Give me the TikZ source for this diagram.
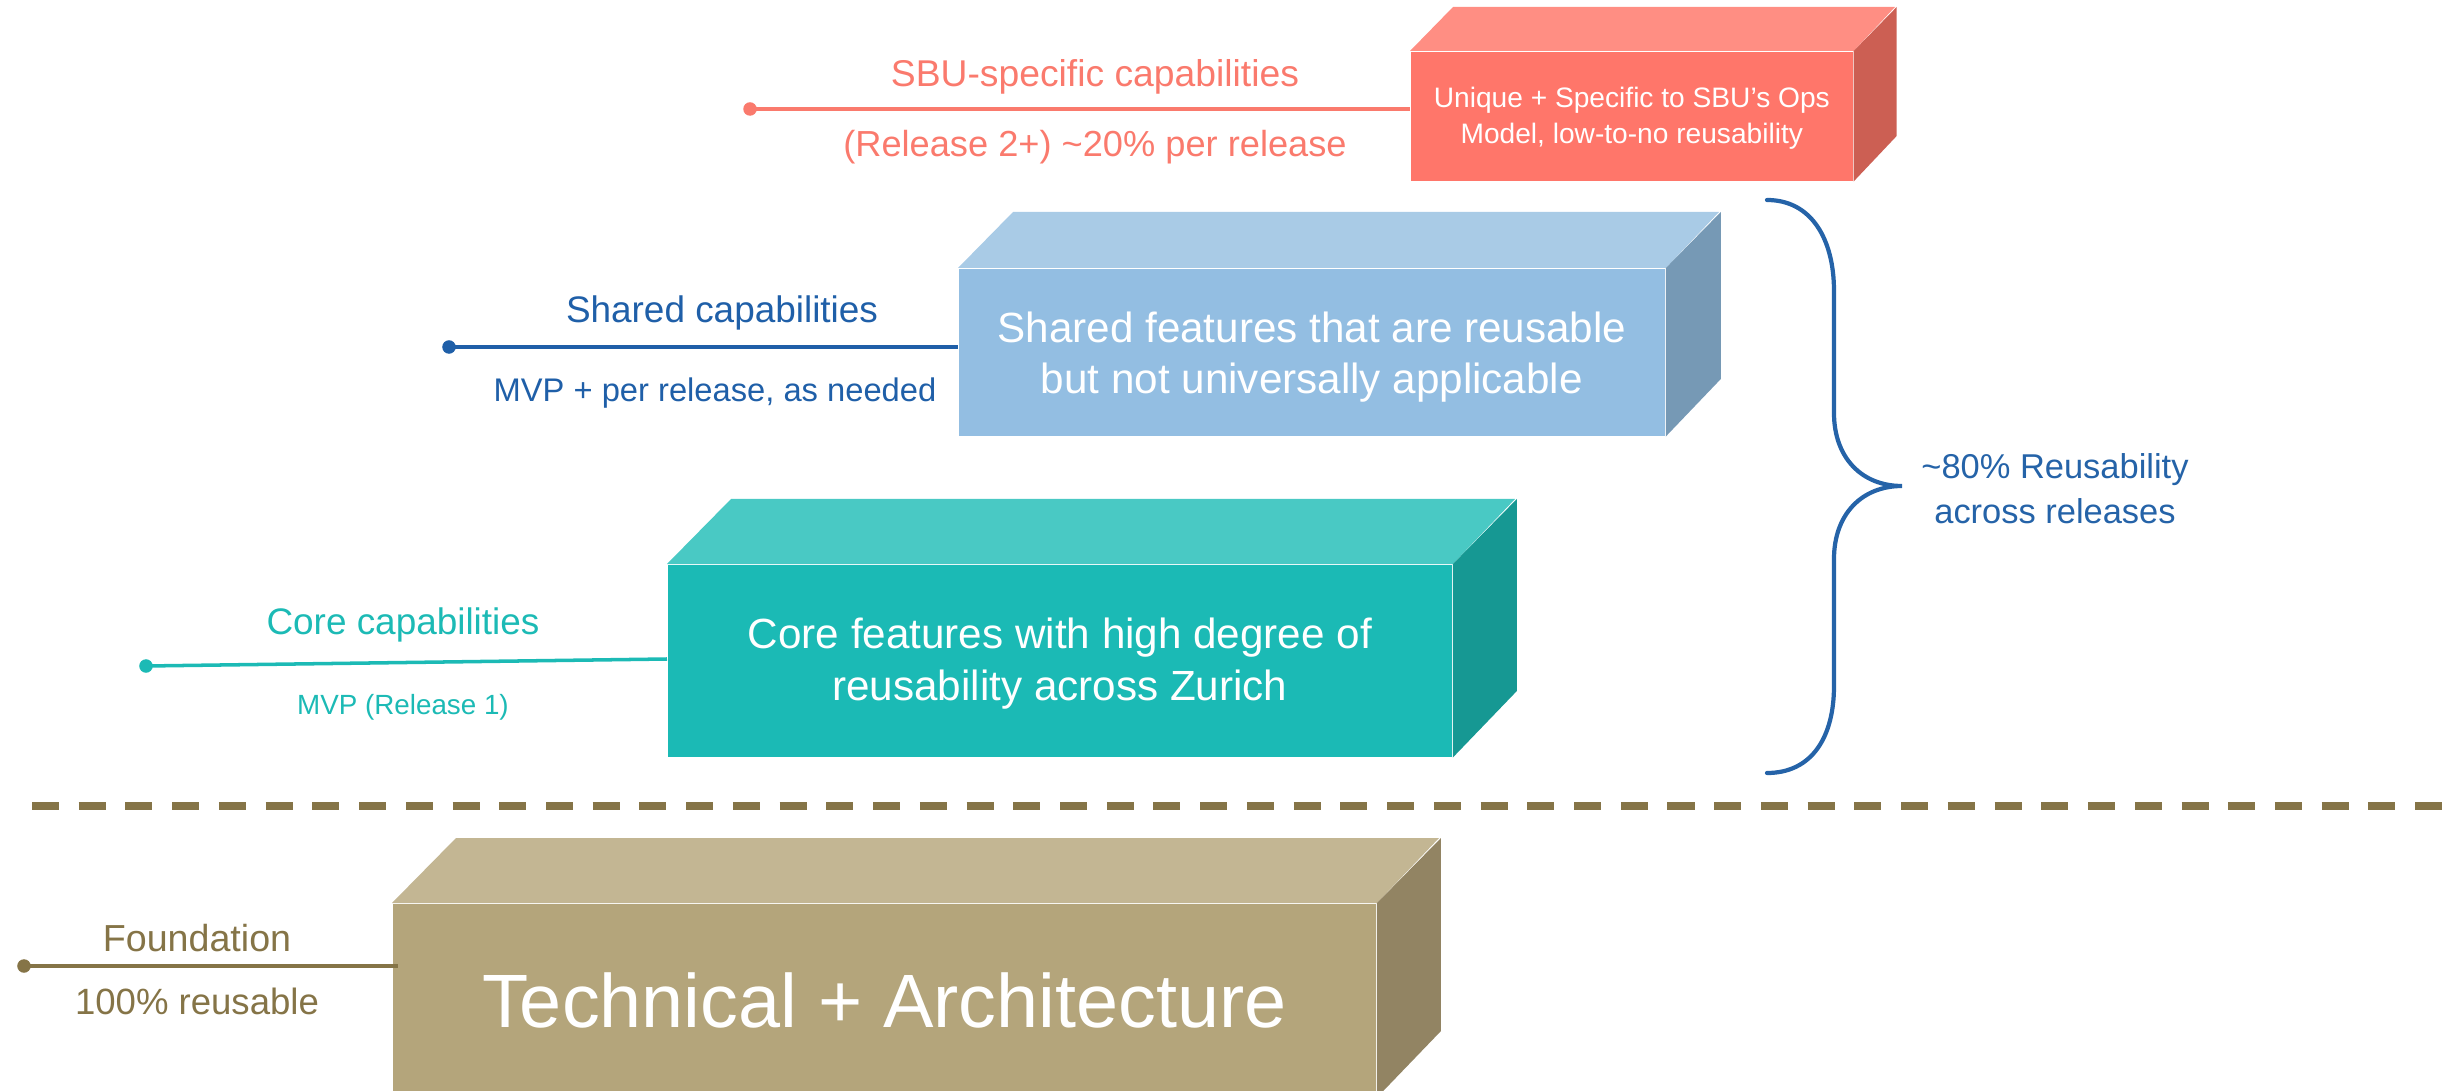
\documentclass[tikz,border=0pt]{standalone}
\usepackage{fontspec}
\setmainfont{Liberation Sans}
\definecolor{sbufront}{HTML}{FF766A}
\definecolor{sbutop}{HTML}{FF8E83}
\definecolor{sbuside}{HTML}{CC5F53}
\definecolor{sbulbl}{HTML}{FA7A6D}
\definecolor{shfront}{HTML}{93BEE2}
\definecolor{shtop}{HTML}{A9CBE6}
\definecolor{shside}{HTML}{7699B5}
\definecolor{shlbl}{HTML}{1F5FA8}
\definecolor{cofront}{HTML}{1BBAB5}
\definecolor{cotop}{HTML}{49C9C4}
\definecolor{coside}{HTML}{169893}
\definecolor{colbl}{HTML}{1CBAB5}
\definecolor{tefront}{HTML}{B4A57B}
\definecolor{tetop}{HTML}{C3B693}
\definecolor{teside}{HTML}{928463}
\definecolor{telbl}{HTML}{857447}
\definecolor{bracecol}{HTML}{2563A8}
\begin{document}
\begin{tikzpicture}[x=0.01cm,y=-0.01cm,
  facebox/.style={inner sep=0pt, anchor=north west},
  facetext/.style={inner sep=0pt, text=white, align=center},
  dotnode/.style={circle, inner sep=0pt, minimum size=0.135cm},
  lbl/.style={inner sep=0pt, anchor=base},
  conn/.style={line width=1pt}]
\useasboundingbox (0,0) rectangle (2453,1091);

% ---------- SBU box ----------
\node[facebox, fill=sbufront, minimum width=4.42cm, minimum height=1.29cm] (sbu) at (1410,51) {};
\fill[sbutop] (sbu.north west) -- ++(43,-44) -- ++(442,0) -- (sbu.north east) -- cycle;
\fill[sbuside] (sbu.north east) -- ++(43,-44) -- ++(0,129) -- (sbu.south east) -- cycle;
\node[facetext, font=\fontsize{8}{10}\selectfont] (sbutxt) at ([yshift=-0.02cm]sbu.center)
      {Unique + Specific to SBU’s Ops\\Model, low-to-no reusability};

% ---------- Shared box ----------
\node[facebox, fill=shfront, minimum width=7.06cm, minimum height=1.67cm] (sh) at (958,268) {};
\fill[shtop] (sh.north west) -- ++(55,-56) -- ++(706,0) -- (sh.north east) -- cycle;
\fill[shside] (sh.north east) -- ++(55,-56) -- ++(0,167) -- (sh.south east) -- cycle;
\node[facetext, font=\fontsize{12}{14.6}\selectfont] (shtxt) at ([yshift=-0.05cm]sh.center)
      {Shared features that are reusable\\but not universally applicable};

% ---------- Core box ----------
\node[facebox, fill=cofront, minimum width=7.84cm, minimum height=1.92cm] (co) at (667,564) {};
\fill[cotop] (co.north west) -- ++(64,-65) -- ++(784,0) -- (co.north east) -- cycle;
\fill[coside] (co.north east) -- ++(64,-65) -- ++(0,192) -- (co.south east) -- cycle;
\node[facetext, font=\fontsize{12}{14.8}\selectfont] (cotxt) at ([yshift=-0.03cm]co.center)
      {Core features with high degree of\\reusability across Zurich};

% ---------- Technical box ----------
\node[facebox, fill=tefront, minimum width=9.83cm, minimum height=1.93cm] (te) at (392,903) {};
\fill[tetop] (te.north west) -- ++(64,-65) -- ++(983,0) -- (te.north east) -- cycle;
\fill[teside] (te.north east) -- ++(64,-65) -- ++(0,193) -- (te.south east) -- cycle;
\node[facetext, font=\fontsize{21.5}{25}\selectfont] (tetxt) at (te.center) {Technical + Architecture};

% ---------- dashed separator ----------
\coordinate (dashL) at (32,806);
\coordinate (dashR) at (2453,806);
\draw[telbl, line width=2.3pt, dash pattern=on 0.27cm off 0.197cm] (dashL) -- (dashR);

% ---------- SBU connector ----------
\node[dotnode, fill=sbulbl] (dsbu) at (750,109) {};
\draw[conn, sbulbl] (dsbu.center) -- (dsbu.center -| sbu.west);
\node[lbl, text=sbulbl, font=\fontsize{10.6}{12}\selectfont] (sbuA) at (1095,87) {SBU-specific capabilities};
\node[lbl, text=sbulbl, font=\fontsize{10.3}{12}\selectfont] (sbuB) at (1095,157) {(Release 2+) \textasciitilde 20\% per release};

% ---------- Shared connector ----------
\node[dotnode, fill=shlbl] (dsh) at (449,347) {};
\draw[conn, shlbl] (dsh.center) -- (dsh.center -| sh.west);
\node[lbl, text=shlbl, font=\fontsize{10.5}{12}\selectfont] (shA) at (722,323) {Shared capabilities};
\node[lbl, text=shlbl, font=\fontsize{9.3}{11}\selectfont] (shB) at (715,402) {MVP + per release, as needed};

% ---------- Core connector ----------
\node[dotnode, fill=colbl] (dco) at (146,666) {};
\coordinate (coend) at (667,659);
\draw[conn, colbl] (dco.center) -- (coend);
\node[lbl, text=colbl, font=\fontsize{10.5}{12}\selectfont] (coA) at (403,634) {Core capabilities};
\node[lbl, text=colbl, font=\fontsize{7.9}{9}\selectfont] (coB) at (403,714) {MVP (Release 1)};

% ---------- Foundation connector ----------
\node[dotnode, fill=telbl] (dte) at (24,966) {};
\coordinate (teend) at (398,966);
\draw[conn, telbl] (dte.center) -- (teend);
\node[lbl, text=telbl, font=\fontsize{10.7}{12}\selectfont] (teA) at (197,951) {Foundation};
\node[lbl, text=telbl, font=\fontsize{10.4}{12}\selectfont] (teB) at (197,1014) {100\% reusable};

% ---------- Brace ----------
\draw[bracecol, line width=1.2pt, line cap=round]
  (1767,200) .. controls (1812,200) and (1834,240) .. (1834,291)
  -- (1834,413)
  .. controls (1834,458) and (1862,486) .. (1902,486)
  .. controls (1862,486) and (1834,514) .. (1834,559)
  -- (1834,686)
  .. controls (1834,737) and (1812,773) .. (1767,773);
\node[inner sep=0pt, align=center, text=bracecol, font=\fontsize{9.8}{12.8}\selectfont]
  (reuse) at (2055,489) {\textasciitilde 80\% Reusability\\across releases};
\end{tikzpicture}
\end{document}
